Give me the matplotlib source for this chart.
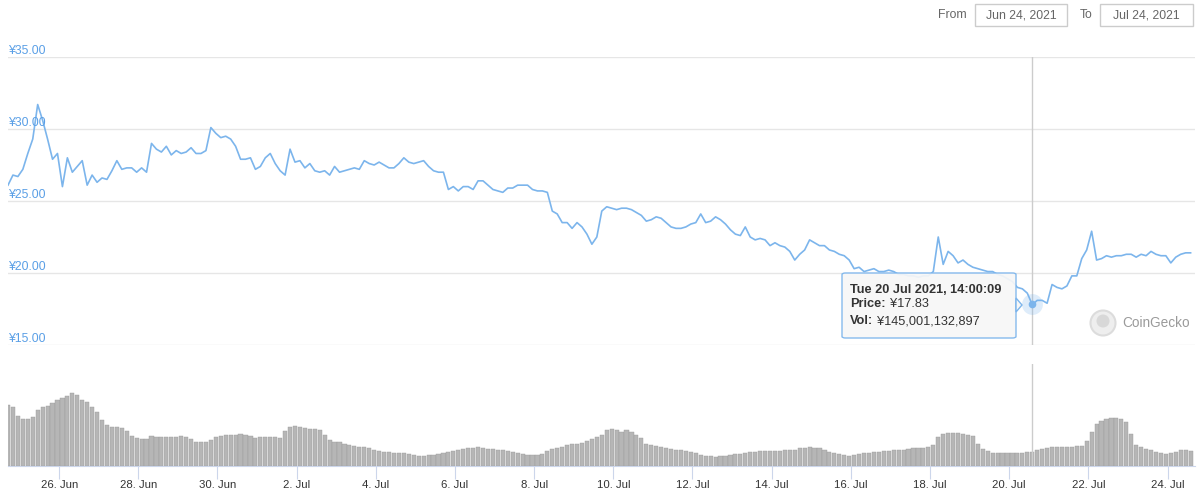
import numpy as np
import pandas as pd
import matplotlib
matplotlib.use('Agg')
import matplotlib.pyplot as plt
import matplotlib.dates as mdates
from matplotlib.patches import FancyBboxPatch, Polygon, Ellipse, Rectangle

plt.rcParams['font.family'] = ['Liberation Sans', 'DejaVu Sans']

# samples every 3 hours from 24 Jun 2021 17:00
start_time = '2021-06-24 17:00'
step = '3h'
end_view = '2021-07-24 16:40'

price = [
    26.1, 26.8, 26.7, 27.2, 28.3, 29.3, 31.7, 30.6, 29.3, 27.9,
    28.3, 26.0, 28.0, 27.0, 27.4, 27.8, 26.1, 26.8, 26.3, 26.6,
    26.5, 27.1, 27.8, 27.2, 27.3, 27.3, 27.0, 27.3, 27.0, 29.0,
    28.6, 28.4, 28.8, 28.2, 28.5, 28.3, 28.4, 28.7, 28.3, 28.3,
    28.5, 30.1, 29.7, 29.4, 29.5, 29.3, 28.8, 27.9, 27.9, 28.0,
    27.2, 27.4, 28.0, 28.3, 27.6, 27.1, 26.8, 28.6, 27.7, 27.8,
    27.3, 27.6, 27.1, 27.0, 27.1, 26.8, 27.4, 27.0, 27.1, 27.2,
    27.3, 27.2, 27.8, 27.6, 27.5, 27.7, 27.5, 27.3, 27.3, 27.6,
    28.0, 27.7, 27.6, 27.7, 27.8, 27.4, 27.1, 27.0, 27.0, 25.8,
    26.0, 25.7, 26.0, 26.0, 25.8, 26.4, 26.4, 26.1, 25.8, 25.7,
    25.6, 25.9, 25.9, 26.1, 26.1, 26.1, 25.8, 25.7, 25.7, 25.6,
    24.3, 24.1, 23.5, 23.5, 23.1, 23.5, 23.2, 22.7, 22.0, 22.5,
    24.3, 24.6, 24.5, 24.4, 24.5, 24.5, 24.4, 24.2, 24.0, 23.6,
    23.7, 23.9, 23.8, 23.5, 23.2, 23.1, 23.1, 23.2, 23.4, 23.5,
    24.1, 23.5, 23.6, 23.9, 23.7, 23.4, 23.0, 22.7, 22.6, 23.2,
    22.5, 22.3, 22.4, 22.3, 21.9, 22.1, 21.9, 21.8, 21.5, 20.9,
    21.3, 21.6, 22.3, 22.1, 21.9, 21.9, 21.6, 21.5, 21.3, 21.2,
    20.9, 20.3, 20.4, 20.1, 20.2, 20.3, 20.1, 20.1, 20.2, 20.1,
    19.9, 19.9, 19.8, 19.8, 19.7, 19.8, 19.8, 20.1, 22.5, 20.6,
    21.5, 21.2, 20.7, 20.9, 20.6, 20.4, 20.3, 20.2, 20.1, 20.1,
    19.9, 19.8, 19.6, 19.4, 19.0, 18.9, 18.6, 17.8, 18.1, 18.1,
    17.9, 19.2, 19.0, 18.9, 19.1, 19.8, 19.8, 21.0, 21.6, 22.9,
    20.9, 21.0, 21.2, 21.1, 21.2, 21.2, 21.3, 21.3, 21.1, 21.3,
    21.2, 21.5, 21.3, 21.2, 21.2, 20.7, 21.1, 21.3, 21.4, 21.4,
]

# volume in billions of yen
volume = [
    616, 600, 500, 470, 475, 495, 566, 594, 606, 634,
    667, 685, 707, 742, 717, 667, 650, 600, 550, 465,
    414, 392, 391, 381, 354, 300, 278, 271, 270, 303,
    296, 293, 290, 290, 290, 303, 290, 268, 247, 245,
    247, 258, 290, 303, 313, 313, 316, 323, 318, 298,
    285, 290, 290, 293, 293, 283, 354, 394, 404, 391,
    384, 377, 369, 359, 318, 263, 247, 242, 227, 214,
    202, 194, 189, 180, 162, 149, 144, 139, 134, 129,
    131, 123, 114, 104, 104, 109, 114, 119, 128, 141,
    152, 164, 172, 177, 182, 187, 184, 174, 167, 164,
    158, 149, 138, 127, 119, 114, 111, 111, 121, 149,
    167, 182, 195, 217, 224, 227, 232, 249, 268, 288,
    313, 364, 369, 359, 348, 364, 343, 318, 283, 227,
    209, 197, 189, 180, 170, 164, 160, 156, 144, 131,
    116, 103, 97, 95, 98, 104, 116, 123, 126, 131,
    139, 146, 152, 155, 155, 155, 155, 157, 159, 162,
    179, 184, 189, 184, 179, 162, 144, 133, 121, 111,
    101, 111, 121, 131, 134, 138, 141, 147, 155, 158,
    162, 165, 169, 180, 183, 181, 187, 217, 293, 323,
    336, 336, 336, 328, 318, 301, 227, 167, 149, 134,
    130, 128, 131, 134, 134, 134, 141, 144, 157, 169,
    182, 195, 195, 195, 195, 195, 198, 202, 253, 343,
    424, 455, 470, 482, 482, 475, 444, 328, 212, 187,
    169, 157, 144, 133, 121, 136, 146, 160, 159, 155,
]

price_ticks = [15, 20, 25, 30, 35]
date_ticks = ['2021-06-26', '2021-06-28', '2021-06-30', '2021-07-02', '2021-07-04',
              '2021-07-06', '2021-07-08', '2021-07-10', '2021-07-12', '2021-07-14',
              '2021-07-16', '2021-07-18', '2021-07-20', '2021-07-22', '2021-07-24']
date_labels = ['26. Jun', '28. Jun', '30. Jun', '2. Jul', '4. Jul', '6. Jul', '8. Jul',
               '10. Jul', '12. Jul', '14. Jul', '16. Jul', '18. Jul', '20. Jul',
               '22. Jul', '24. Jul']

cross_time = '2021-07-20 14:00'
cross_price = 17.83
tip_title = 'Tue 20 Jul 2021, 14:00:09'
tip_rows = [('Price:', '¥17.83'), ('Vol:', '¥145,001,132,897')]
date_from = 'Jun 24, 2021'
date_to = 'Jul 24, 2021'

LINE = '#7cb5ec'
GRID = '#e6e6e6'
AXIS = '#ccd6eb'

W, H = 1200, 491


def fx(x):
    return x / W


def fy(y):
    return 1 - y / H


times = pd.date_range(start_time, periods=len(price), freq=step)
t = mdates.date2num(times.to_pydatetime())
x0 = mdates.date2num(pd.Timestamp(start_time).to_pydatetime())
x1 = mdates.date2num(pd.Timestamp(end_view).to_pydatetime())
tc = mdates.date2num(pd.Timestamp(cross_time).to_pydatetime())

fig = plt.figure(figsize=(12, 4.91), dpi=100)

# price pane
ax = fig.add_axes([fx(8), fy(345), fx(1195) - fx(8), fy(57) - fy(345)])
ax.set_xlim(x0, x1)
ax.set_ylim(15, 35)
for s in ax.spines.values():
    s.set_visible(False)
ax.set_xticks([])
ax.set_yticks([])
for v in price_ticks:
    ax.axhline(v, color=GRID, lw=1, zorder=0)
    ax.text(0, v, '¥%.2f' % v, transform=ax.get_yaxis_transform(),
            color='#5a9fe6', fontsize=8.8, va='bottom', ha='left')
ax.axvline(tc, color='#cccccc', lw=1, zorder=1)
ax.plot(t, price, color=LINE, lw=1.2, zorder=2)
ax.plot([tc], [cross_price], 'o', ms=15, color=LINE, alpha=0.25, mec='none', zorder=3)
ax.plot([tc], [cross_price], 'o', ms=5.5, color=LINE, mec='none', zorder=4)

# volume pane
av = fig.add_axes([fx(8), fy(466), fx(1195) - fx(8), fy(364) - fy(466)])
av.set_xlim(x0, x1)
av.set_ylim(0, 1030)
for k, s in av.spines.items():
    s.set_visible(k == 'bottom')
av.spines['bottom'].set_color(AXIS)
av.bar(t, volume, width=0.105, color='#b6b6b6', edgecolor='#9a9a9a', lw=0.3, zorder=2)
av.axvline(tc, color='#cccccc', lw=1, zorder=3)
av.set_yticks([])
av.set_xticks(mdates.date2num(pd.to_datetime(date_ticks).to_pydatetime()))
av.set_xticklabels(date_labels)
av.tick_params(axis='x', length=9, color=AXIS, labelcolor='#333333', labelsize=8.2, pad=1)

# tooltip
tip = FancyBboxPatch((fx(842), fy(338)), fx(1016) - fx(842), fy(273) - fy(338),
                     boxstyle='round,pad=0,rounding_size=0.003', transform=fig.transFigure,
                     facecolor='#f7f7f7', edgecolor=LINE, lw=1, alpha=0.92, zorder=10)
fig.patches.append(tip)
arrow = Polygon([(fx(1016), fy(298)), (fx(1022), fy(305)), (fx(1016), fy(312))],
                closed=True, transform=fig.transFigure, facecolor='#f7f7f7',
                edgecolor=LINE, lw=1, zorder=10)
fig.patches.append(arrow)
fig.text(fx(850), fy(290), tip_title, fontsize=9.2, fontweight='bold', color='#333333',
         va='center', zorder=11)
renderer = fig.canvas.get_renderer()
for i, (name, val) in enumerate(tip_rows):
    yy = fy(304 + 17 * i)
    lab = fig.text(fx(850), yy, name, fontsize=9.2, fontweight='bold', color='#333333',
                   va='center', zorder=11)
    bb = lab.get_window_extent(renderer)
    fig.text(fx(bb.x1 + 4), yy, val, fontsize=9.2, color='#333333', va='center', zorder=11)

# watermark
fig.patches.append(Ellipse((fx(1103), fy(323)), 25 / W, 25 / H, transform=fig.transFigure,
                           facecolor='#eeeeee', edgecolor='#dcdcdc', lw=1.5, zorder=5))
fig.patches.append(Ellipse((fx(1103), fy(321)), 13 / W, 13 / H, transform=fig.transFigure,
                           facecolor='#d8d8d8', edgecolor='none', zorder=6))
fig.text(fx(1122), fy(323), 'CoinGecko', fontsize=9.8, color='#9a9a9a', va='center')

# date range inputs
fig.text(fx(938), fy(15), 'From', fontsize=8.8, color='#666666', va='center')
fig.text(fx(1080), fy(15), 'To', fontsize=8.8, color='#666666', va='center')
for (xa, xb), label in [((975, 1067), date_from), ((1100, 1193), date_to)]:
    fig.patches.append(Rectangle((fx(xa), fy(26)), fx(xb) - fx(xa), fy(4) - fy(26),
                                 transform=fig.transFigure, facecolor='white',
                                 edgecolor='#cccccc', lw=1))
    fig.text(fx((xa + xb) / 2), fy(15), label, fontsize=8.8, color='#666666',
             va='center', ha='center')

fig.savefig('out.png', dpi=100)
